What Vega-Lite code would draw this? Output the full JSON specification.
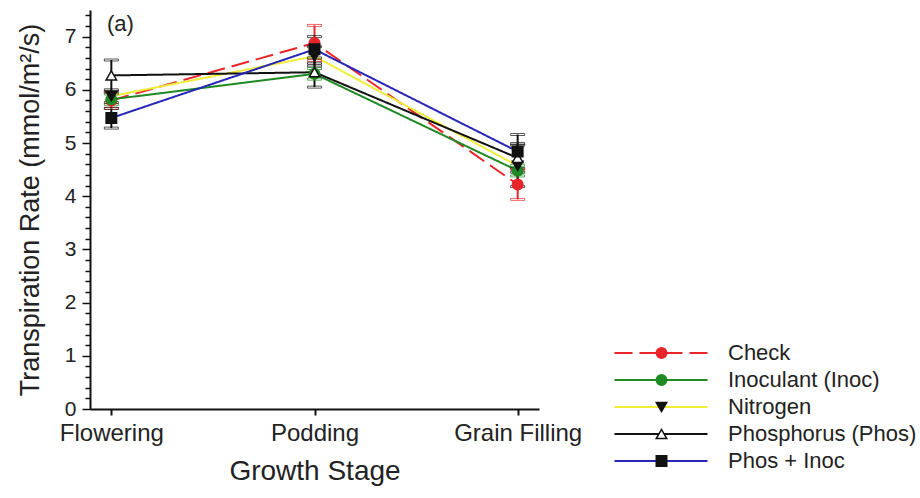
{
  "$schema": "https://vega.github.io/schema/vega-lite/v6.json",
  "autosize": "none",
  "width": 449,
  "height": 399,
  "padding": {"left": 90, "top": 10, "right": 381, "bottom": 89},
  "background": "white",
  "config": {
    "font": "Liberation Sans",
    "view": {"stroke": null},
    "axis": {"labelFont": "Liberation Sans", "titleFont": "Liberation Sans", "labelColor": "#222", "titleColor": "#222", "titleFontWeight": "normal", "domainColor": "#111", "tickColor": "#111", "grid": false},
    "legend": {"labelFont": "Liberation Sans", "labelColor": "#222"}
  },
  "title": {"text": "(a)", "anchor": "start", "frame": "group", "fontSize": 22, "fontWeight": "normal", "color": "#222", "dx": 17, "dy": 32, "offset": 0},
  "data": {"values": [
    {"stage": "Flowering", "series": "Check", "ord": 1, "value": 5.80, "lo": 5.65, "hi": 5.95},
    {"stage": "Podding", "series": "Check", "ord": 1, "value": 6.88, "lo": 6.55, "hi": 7.21},
    {"stage": "Grain Filling", "series": "Check", "ord": 1, "value": 4.22, "lo": 3.94, "hi": 4.50},
    {"stage": "Flowering", "series": "Inoculant (Inoc)", "ord": 2, "value": 5.82, "lo": 5.72, "hi": 5.92},
    {"stage": "Podding", "series": "Inoculant (Inoc)", "ord": 2, "value": 6.30, "lo": 6.20, "hi": 6.40},
    {"stage": "Grain Filling", "series": "Inoculant (Inoc)", "ord": 2, "value": 4.48, "lo": 4.38, "hi": 4.58},
    {"stage": "Flowering", "series": "Nitrogen", "ord": 3, "value": 5.88, "lo": 5.76, "hi": 6.00},
    {"stage": "Podding", "series": "Nitrogen", "ord": 3, "value": 6.63, "lo": 6.45, "hi": 6.81},
    {"stage": "Grain Filling", "series": "Nitrogen", "ord": 3, "value": 4.57, "lo": 4.18, "hi": 4.96},
    {"stage": "Flowering", "series": "Phosphorus (Phos)", "ord": 4, "value": 6.27, "lo": 5.97, "hi": 6.56},
    {"stage": "Podding", "series": "Phosphorus (Phos)", "ord": 4, "value": 6.33, "lo": 6.05, "hi": 6.60},
    {"stage": "Grain Filling", "series": "Phosphorus (Phos)", "ord": 4, "value": 4.72, "lo": 4.45, "hi": 4.99},
    {"stage": "Flowering", "series": "Phos + Inoc", "ord": 5, "value": 5.47, "lo": 5.28, "hi": 5.65},
    {"stage": "Podding", "series": "Phos + Inoc", "ord": 5, "value": 6.76, "lo": 6.50, "hi": 7.00},
    {"stage": "Grain Filling", "series": "Phos + Inoc", "ord": 5, "value": 4.84, "lo": 4.52, "hi": 5.16}
  ]},
  "encoding": {
    "x": {"field": "stage", "type": "nominal", "sort": ["Flowering", "Podding", "Grain Filling"],
      "scale": {"type": "point", "padding": 0.105},
      "axis": {"title": "Growth Stage", "labelAngle": 0, "labelFontSize": 24, "titleFontSize": 28, "tickSize": 6, "tickWidth": 2, "domainWidth": 2, "labelPadding": 6, "titlePadding": 12}}
  },
  "layer": [
    {
      "mark": {"type": "line", "strokeWidth": 2},
      "encoding": {
        "y": {"field": "value", "type": "quantitative", "scale": {"domain": [0, 7.5], "nice": false, "zero": true},
          "axis": {"title": "Transpiration Rate (mmol/m²/s)", "titleFontSize": 27, "labelFontSize": 21, "domainWidth": 2,
            "values": [0,0.2,0.4,0.6,0.8,1,1.2,1.4,1.6,1.8,2,2.2,2.4,2.6,2.8,3,3.2,3.4,3.6,3.8,4,4.2,4.4,4.6,4.8,5,5.2,5.4,5.6,5.8,6,6.2,6.4,6.6,6.8,7,7.2,7.4],
            "tickCount": 40,
            "labelExpr": "abs(datum.value - round(datum.value)) < 0.001 ? format(datum.value, 'd') : ''",
            "tickSize": {"condition": {"test": "abs(datum.value - round(datum.value)) < 0.001", "value": 8}, "value": 5},
            "tickWidth": 1.5, "labelPadding": 6, "titlePadding": 20, "labelFlush": false, "labelOverlap": false}},
        "color": {"field": "series", "type": "nominal",
          "scale": {"domain": ["Check", "Inoculant (Inoc)", "Nitrogen", "Phosphorus (Phos)", "Phos + Inoc"], "range": ["#e8262a", "#1f8a24", "#f0ee3a", "#111111", "#2626b8"]},
          "legend": {"title": null, "orient": "none", "legendX": 560, "legendY": 332, "zindex": 1, "symbolType": "M-9.3,0H9.3", "symbolSize": 100, "symbolStrokeWidth": 2, "labelFontSize": 22, "labelOffset": 56, "labelLimit": 400, "rowPadding": 5}},
        "strokeDash": {"field": "series", "type": "nominal",
          "scale": {"domain": ["Check", "Inoculant (Inoc)", "Nitrogen", "Phosphorus (Phos)", "Phos + Inoc"], "range": [[18, 7], [1, 0], [1, 0], [1, 0], [1, 0]]}}
      }
    },
    {
      "mark": {"type": "rule", "strokeWidth": 2},
      "encoding": {
        "y": {"field": "lo", "type": "quantitative"},
        "y2": {"field": "hi"},
        "stroke": {"field": "series", "type": "nominal", "sort": {"field": "ord", "op": "min"},
          "scale": {"range": ["#e8262a", "#1f8a24", "#111111", "#111111", "#111111"]}, "legend": null}
      }
    },
    {
      "mark": {"type": "tick", "thickness": 2, "size": 14},
      "encoding": {
        "y": {"field": "lo", "type": "quantitative"},
        "color": {"value": null},
        "stroke": {"field": "series", "type": "nominal", "sort": {"field": "ord", "op": "min"}, "legend": null}
      }
    },
    {
      "mark": {"type": "tick", "thickness": 2, "size": 14},
      "encoding": {
        "y": {"field": "hi", "type": "quantitative"},
        "color": {"value": null},
        "stroke": {"field": "series", "type": "nominal", "sort": {"field": "ord", "op": "min"}, "legend": null}
      }
    },
    {
      "mark": {"type": "point", "filled": false, "size": 110, "strokeWidth": 1.5, "opacity": 1},
      "encoding": {
        "y": {"field": "value", "type": "quantitative"},
        "shape": {"field": "series", "type": "nominal", "sort": {"field": "ord", "op": "min"},
          "scale": {"range": ["circle", "circle", "triangle-down", "triangle-up", "square"]}},
        "fill": {"field": "series", "type": "nominal", "sort": {"field": "ord", "op": "min"},
          "scale": {"range": ["#e8262a", "#1f8a24", "#111111", "#ffffff", "#111111"]},
          "legend": {"title": null, "orient": "none", "legendX": 560.5, "legendY": 332, "zindex": 2, "symbolSize": 110, "symbolStrokeWidth": 1.5, "symbolOpacity": 1, "labelFontSize": 22, "labelExpr": "''", "rowPadding": 5,
            "encode": {"symbols": {"update": {"stroke": {"signal": "scale('stroke', datum.value)"}, "strokeWidth": {"value": 1.5}}}}}},
        "stroke": {"field": "series", "type": "nominal", "sort": {"field": "ord", "op": "min"}}
      }
    }
  ]
}
